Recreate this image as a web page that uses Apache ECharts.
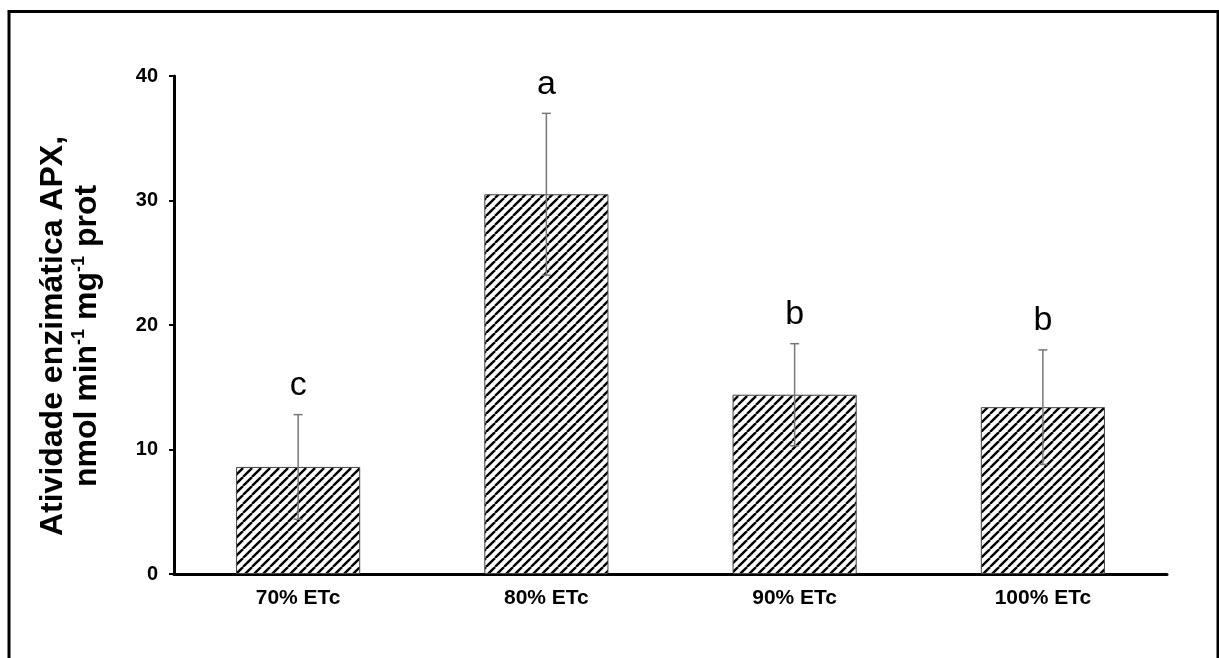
<!DOCTYPE html>
<html>
<head>
<meta charset="utf-8">
<script src="https://cdn.jsdelivr.net/npm/echarts@6/dist/echarts.min.js"></script>
<style>
  html, body { margin: 0; padding: 0; background: #fff; }
  #chart { width: 1219px; height: 658px; }
</style>
</head>
<body>
<div id="chart"></div>
<script>
// dados
const categories = ['70% ETc', '80% ETc', '90% ETc', '100% ETc'];
const means = [8.6, 30.5, 14.4, 13.4];
const errors = [4.2, 6.5, 4.1, 4.6];
const letters = ['c', 'a', 'b', 'b'];
const yMin = 0;
const yMax = 40;
const yStep = 10;

const FONT = '"Liberation Sans", Arial, sans-serif';

// hachura diagonal
function makeHatch() {
  const s = 9;
  const c = document.createElement('canvas');
  c.width = s; c.height = s;
  const ctx = c.getContext('2d');
  ctx.fillStyle = '#fff';
  ctx.fillRect(0, 0, s, s);
  ctx.strokeStyle = '#000';
  ctx.lineWidth = 2.4;
  [-s, 0, s].forEach(function (k) {
    ctx.beginPath();
    ctx.moveTo(k, s);
    ctx.lineTo(k + s, 0);
    ctx.stroke();
  });
  return c;
}

const chart = echarts.init(document.getElementById('chart'), null, { renderer: 'canvas' });

const option = {
  backgroundColor: '#fff',
  animation: false,
  graphic: [{
    type: 'rect',
    shape: { x: 9, y: 11.5, width: 1209, height: 700 },
    style: { fill: 'none', stroke: '#000', lineWidth: 3 },
    silent: true
  }],
  grid: { left: 174, right: 52, top: 76, bottom: 84 },
  xAxis: {
    type: 'category',
    data: categories,
    axisLine: { lineStyle: { color: '#000', width: 3 } },
    axisTick: { show: false },
    axisLabel: { color: '#000', fontFamily: FONT, fontWeight: 'bold', fontSize: 21, margin: 14 }
  },
  yAxis: {
    type: 'value',
    min: yMin, max: yMax, interval: yStep,
    splitLine: { show: false },
    axisLine: { show: true, lineStyle: { color: '#000', width: 3 } },
    axisTick: { show: true, length: 5, lineStyle: { color: '#000', width: 2 } },
    axisLabel: { color: '#000', fontFamily: FONT, fontWeight: 'bold', fontSize: 20, margin: 16 },
    name: '{n|Atividade enzimática APX,}\n{n|nmol min}{s|-1}{n| mg}{s|-1}{n| prot}',
    nameLocation: 'middle',
    nameRotate: 90,
    nameGap: 70,
    nameTextStyle: {
      color: '#000',
      padding: [0, 22, 0, 0],
      rich: {
        n: { fontFamily: FONT, fontWeight: 'bold', fontSize: 32, lineHeight: 34, color: '#000' },
        s: { fontFamily: FONT, fontWeight: 'bold', fontSize: 18, lineHeight: 34, verticalAlign: 'top', color: '#000' }
      }
    }
  },
  series: [{
    type: 'bar',
    data: means,
    barWidth: '50%',
    itemStyle: {
      color: { image: makeHatch(), repeat: 'repeat' },
      borderColor: '#444',
      borderWidth: 1
    },
    z: 2
  }, {
    type: 'custom',
    data: means.map(function (m, i) { return [i, m - errors[i], m + errors[i]]; }),
    z: 5,
    renderItem: function (params, api) {
      const i = api.value(0);
      const lo = api.coord([i, api.value(1)]);
      const hi = api.coord([i, api.value(2)]);
      const cap = 4.5;
      const st = { stroke: '#777', lineWidth: 1.5 };
      return {
        type: 'group',
        children: [
          { type: 'line', shape: { x1: hi[0], y1: hi[1], x2: lo[0], y2: lo[1] }, style: st },
          { type: 'line', shape: { x1: hi[0] - cap, y1: hi[1], x2: hi[0] + cap, y2: hi[1] }, style: st },
          { type: 'line', shape: { x1: lo[0] - cap, y1: lo[1], x2: lo[0] + cap, y2: lo[1] }, style: st },
          {
            type: 'text',
            x: hi[0], y: hi[1] - 12,
            style: {
              text: letters[params.dataIndex],
              fontFamily: FONT, fontSize: 34, fill: '#000',
              align: 'center', verticalAlign: 'bottom'
            }
          }
        ]
      };
    }
  }]
};

chart.setOption(option);
window.addEventListener('resize', function () { chart.resize(); });
</script>
</body>
</html>
